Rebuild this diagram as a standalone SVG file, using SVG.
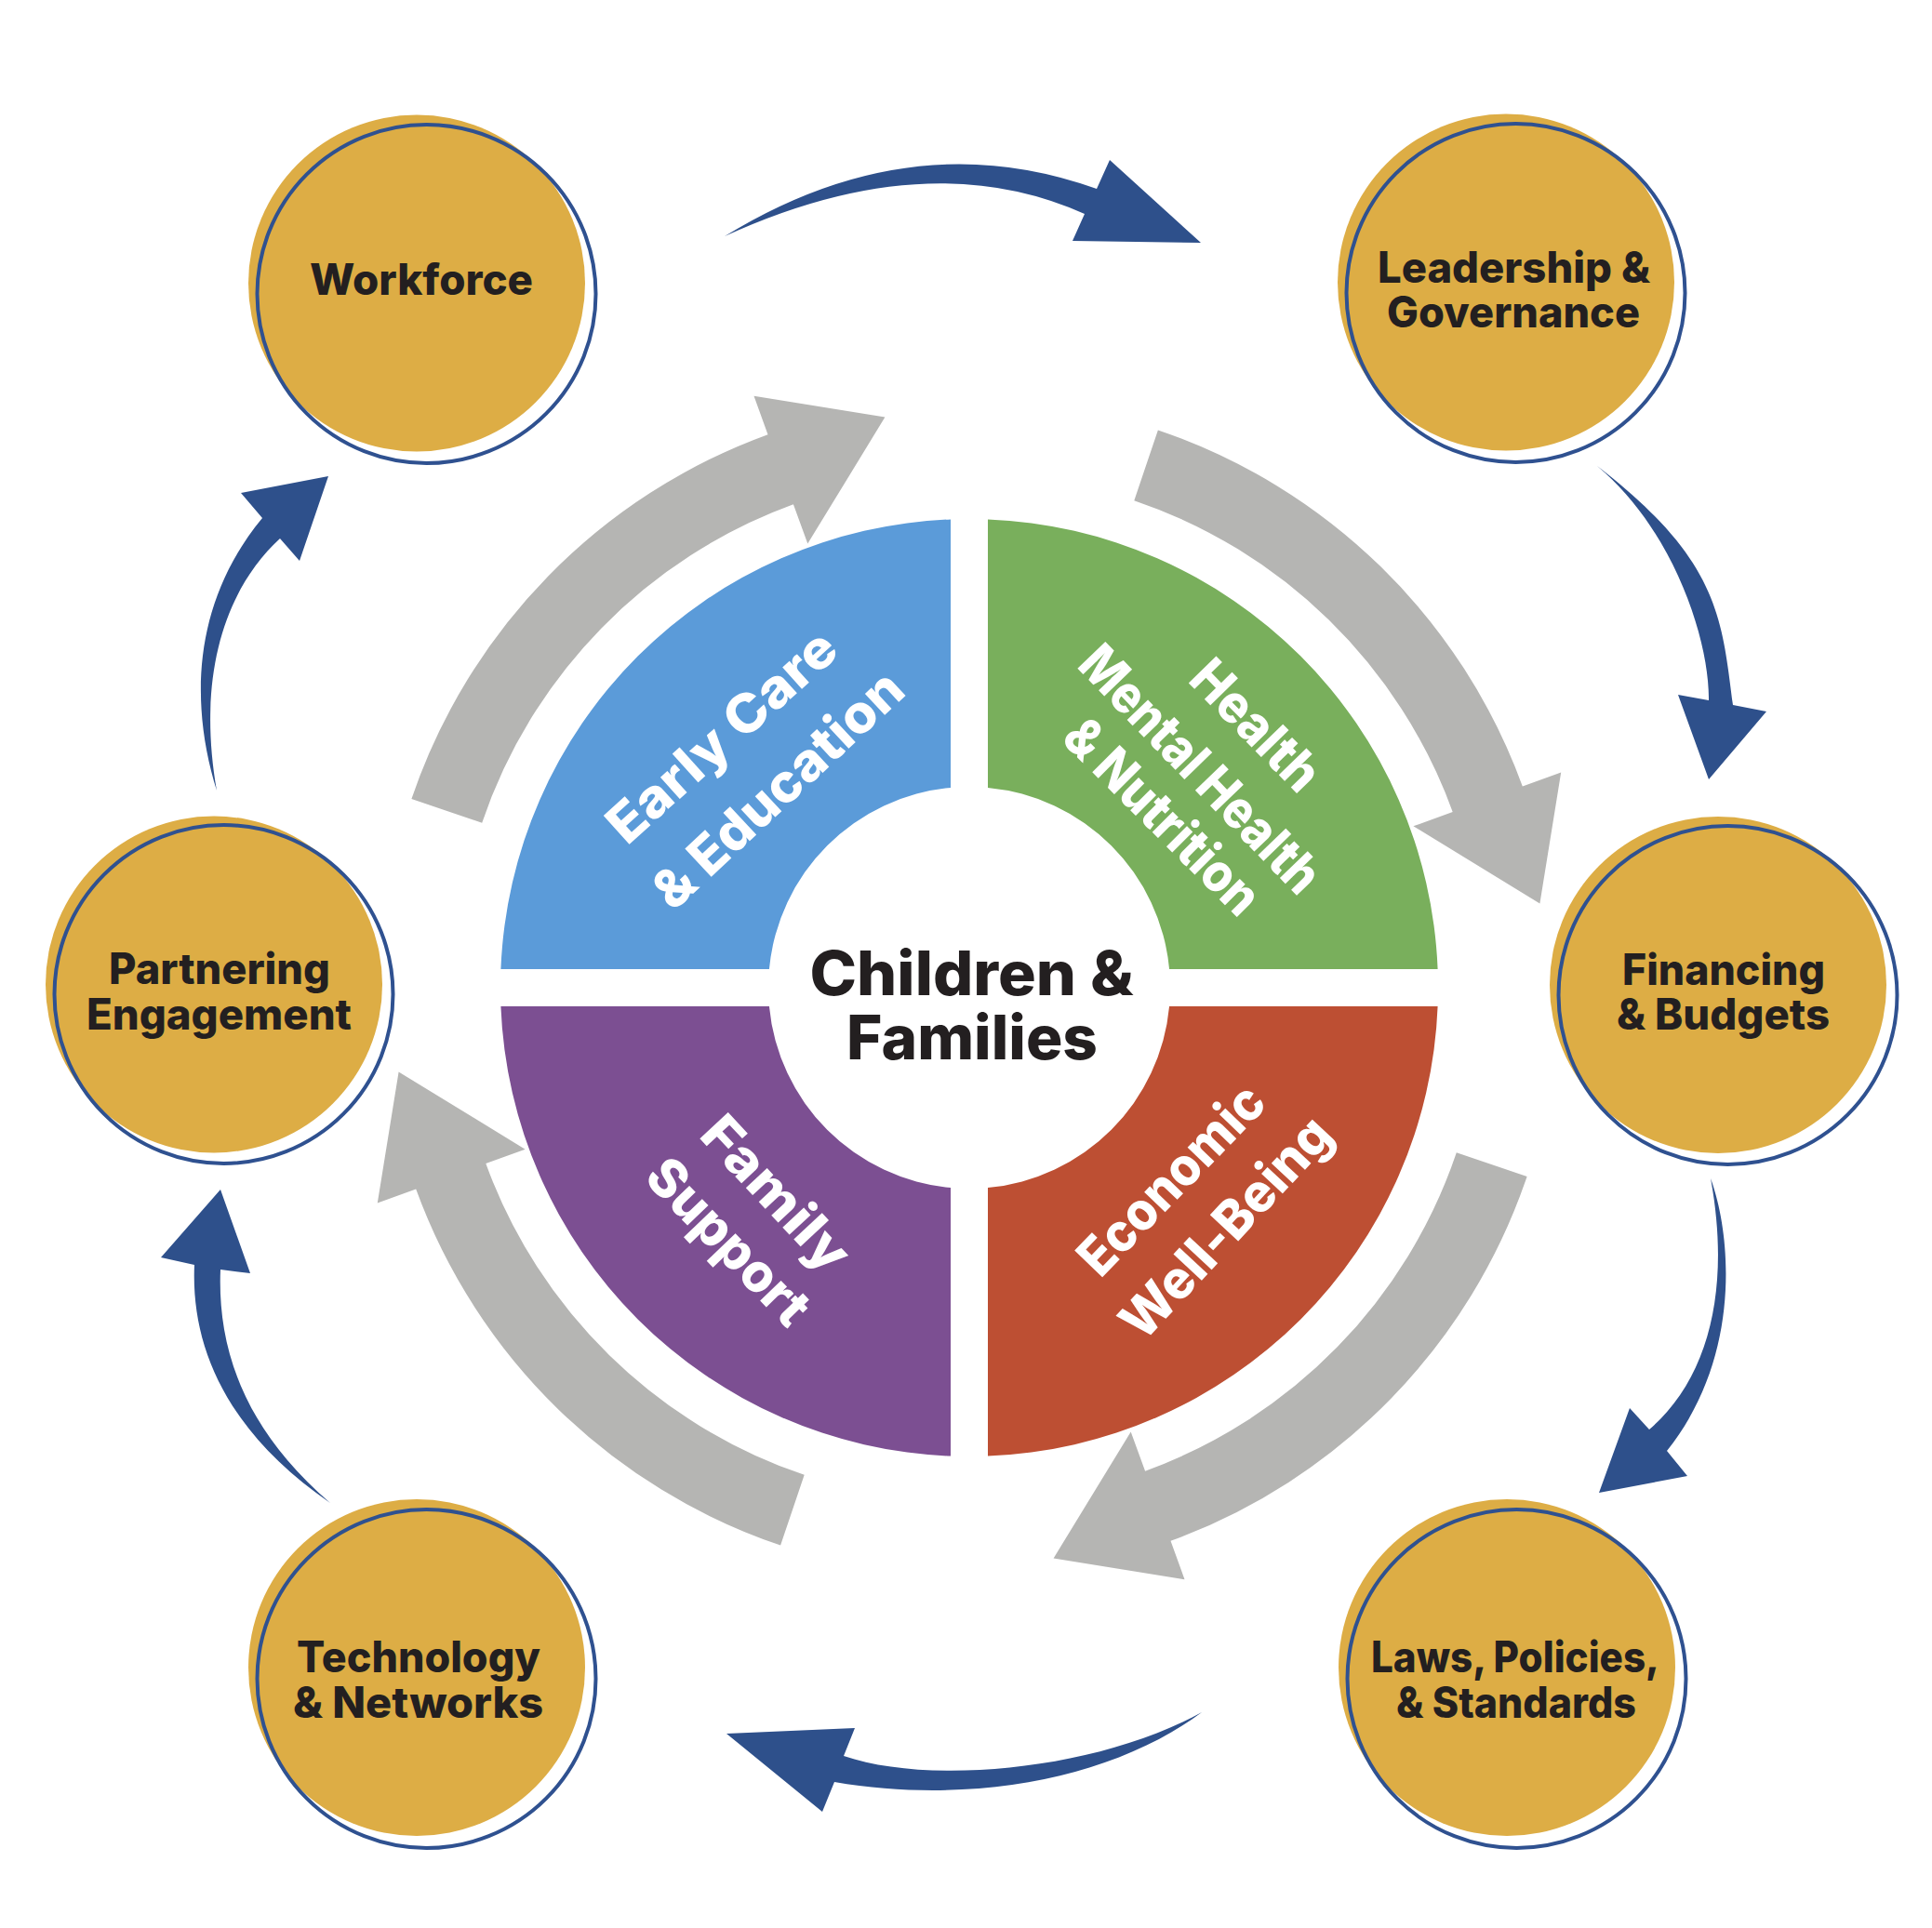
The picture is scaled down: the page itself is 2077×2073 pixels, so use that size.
<svg xmlns="http://www.w3.org/2000/svg" xmlns:xlink="http://www.w3.org/1999/xlink" width="2077" height="2073" viewBox="0 0 2077 2073">
<defs>
<style>
.gold{fill:#DDAD45}
.ring{fill:none;stroke:#2F5190;stroke-width:4}
.lbl{font-family:Inter,"Liberation Sans","DejaVu Sans",sans-serif;font-weight:800;font-size:46px;fill:#231F20;text-anchor:middle}
.ctr{font-family:Inter,"Liberation Sans","DejaVu Sans",sans-serif;font-weight:800;font-size:66px;fill:#231F20;text-anchor:middle}
.q{font-family:Inter,"Liberation Sans","DejaVu Sans",sans-serif;font-weight:800;font-size:57px;fill:#FFFFFF;text-anchor:middle}
.blue{fill:#2E508B}
.grey{fill:#B5B5B3}
</style>
<path id="gray-arrow" d="M 442.4 859.1 A 633 633 0 0 1 825.5 467.2 L 810.5 425.8 L 951.4 448.6 L 868.3 584.6 L 852.9 542.3 A 553 553 0 0 0 518.2 884.7 Z"/>
</defs>
<rect width="2077" height="2073" fill="#FFFFFF"/>

<g id="connectors">
  <g id="gray-arrows" class="grey">
    <use xlink:href="#gray-arrow"/>
    <use xlink:href="#gray-arrow" transform="rotate(90 1042 1062)"/>
    <use xlink:href="#gray-arrow" transform="rotate(180 1042 1062)"/>
    <use xlink:href="#gray-arrow" transform="rotate(270 1042 1062)"/>
  </g>
  <g id="blue-arrows" class="blue">
    <path id="arrow-workforce-leadership" d="M 779 254 Q 979 131 1179 203 L 1193 172 L 1291 261 L 1153 259 L 1166 230 Q 997 154 779 254 Z"/>
    <path id="arrow-leadership-financing" d="M 1717 501 C 1848 602 1851 664 1863 758 L 1899 765 L 1837 838 L 1804 747 L 1837 753 C 1838 690 1800 570 1717 501 Z"/>
    <path id="arrow-financing-laws" d="M 1839 1267 C 1862 1330 1872 1460 1792 1560 L 1814 1587 L 1719 1605 L 1752 1514 L 1773 1537 C 1840 1480 1860 1380 1839 1267 Z"/>
    <path id="arrow-laws-technology" d="M 1292 1841 C 1200 1910 1050 1942 897 1916 L 884 1948 L 781 1864 L 919 1858 L 907 1888 C 1000 1920 1180 1903 1292 1841 Z"/>
    <path id="arrow-technology-partnering" d="M 355 1616 C 245 1540 205 1450 209 1360 L 173 1352 L 237 1279 L 269 1369 L 237 1365 C 234 1440 255 1530 355 1616 Z"/>
    <path id="arrow-partnering-workforce" d="M 233 850 C 205 760 205 650 282 557 L 259 530 L 353 512 L 322 603 L 301 579 C 240 635 212 730 233 850 Z"/>
  </g>
</g>

<g id="quadrant-early-care">
  <path fill="#5B9BD9" d="M 1022 558.4 L 1022 846.93 A 216 216 0 0 0 826.93 1042 L 538.4 1042 A 504 504 0 0 1 1022 558.4 Z"/>
  <text class="q" transform="translate(775.4 791) rotate(-42)" dy="0.36em" textLength="310" lengthAdjust="spacingAndGlyphs">Early Care</text>
  <text class="q" transform="translate(835.7 848.4) rotate(-43)" dy="0.36em" textLength="345" lengthAdjust="spacingAndGlyphs">&amp; Education</text>
</g>
<g id="quadrant-health">
  <path fill="#79AF5C" d="M 1062 558.4 A 504 504 0 0 1 1545.6 1042 L 1257.07 1042 A 216 216 0 0 0 1062 846.93 Z"/>
  <text class="q" transform="translate(1350.7 779.4) rotate(45.6)" dy="0.36em" textLength="172" lengthAdjust="spacingAndGlyphs">Health</text>
  <text class="q" transform="translate(1291 826.5) rotate(46)" dy="0.36em" textLength="345" lengthAdjust="spacingAndGlyphs">Mental Health</text>
  <text class="q" transform="translate(1250.2 877.3) rotate(45)" dy="0.36em" textLength="272" lengthAdjust="spacingAndGlyphs">&amp; Nutrition</text>
</g>
<g id="quadrant-economic">
  <path fill="#BD4F33" d="M 1545.6 1082 A 504 504 0 0 1 1062 1565.6 L 1062 1277.07 A 216 216 0 0 0 1257.07 1082 Z"/>
  <text class="q" transform="translate(1258.6 1267.6) rotate(-46)" dy="0.36em" textLength="260" lengthAdjust="spacingAndGlyphs">Economic</text>
  <text class="q" transform="translate(1317.3 1319.3) rotate(-47)" dy="0.36em" textLength="303" lengthAdjust="spacingAndGlyphs">Well-Being</text>
</g>
<g id="quadrant-family">
  <path fill="#7C4F92" d="M 1022 1565.6 A 504 504 0 0 1 538.4 1082 L 826.93 1082 A 216 216 0 0 0 1022 1277.07 Z"/>
  <text class="q" transform="translate(835 1282.8) rotate(47)" dy="0.36em" textLength="205" lengthAdjust="spacingAndGlyphs">Family</text>
  <text class="q" transform="translate(783.7 1334.3) rotate(46)" dy="0.36em" textLength="225" lengthAdjust="spacingAndGlyphs">Support</text>
</g>

<g id="center">
  <text class="ctr" x="1044.5" y="1070" textLength="348" lengthAdjust="spacingAndGlyphs">Children &amp;</text>
  <text class="ctr" x="1045" y="1139" textLength="270" lengthAdjust="spacingAndGlyphs">Families</text>
</g>

<g id="node-workforce">
  <circle class="gold" cx="448" cy="304.5" r="181"/>
  <circle class="ring" cx="458.5" cy="316" r="182"/>
  <text class="lbl" x="453" y="317" textLength="240" lengthAdjust="spacingAndGlyphs">Workforce</text>
</g>
<g id="node-leadership">
  <circle class="gold" cx="1619" cy="303.5" r="181"/>
  <circle class="ring" cx="1629.5" cy="315" r="182"/>
  <text class="lbl" x="1627.5" y="304" textLength="293" lengthAdjust="spacingAndGlyphs">Leadership &amp;</text>
  <text class="lbl" x="1627" y="352" textLength="272" lengthAdjust="spacingAndGlyphs">Governance</text>
</g>
<g id="node-financing">
  <circle class="gold" cx="1847" cy="1059" r="181"/>
  <circle class="ring" cx="1857.5" cy="1070" r="182"/>
  <text class="lbl" x="1853" y="1059" textLength="218" lengthAdjust="spacingAndGlyphs">Financing</text>
  <text class="lbl" x="1852.5" y="1107" textLength="229" lengthAdjust="spacingAndGlyphs">&amp; Budgets</text>
</g>
<g id="node-laws">
  <circle class="gold" cx="1620" cy="1793" r="181"/>
  <circle class="ring" cx="1630.5" cy="1805" r="182"/>
  <text class="lbl" x="1629" y="1798" textLength="310" lengthAdjust="spacingAndGlyphs">Laws, Policies,</text>
  <text class="lbl" x="1630" y="1847" textLength="258" lengthAdjust="spacingAndGlyphs">&amp; Standards</text>
</g>
<g id="node-technology">
  <circle class="gold" cx="448" cy="1793" r="181"/>
  <circle class="ring" cx="458.5" cy="1805" r="182"/>
  <text class="lbl" x="450" y="1798" textLength="262" lengthAdjust="spacingAndGlyphs">Technology</text>
  <text class="lbl" x="449.5" y="1847" textLength="269" lengthAdjust="spacingAndGlyphs">&amp; Networks</text>
</g>
<g id="node-partnering">
  <circle class="gold" cx="230" cy="1058.5" r="181"/>
  <circle class="ring" cx="240.5" cy="1069" r="182"/>
  <text class="lbl" x="236" y="1058" textLength="238" lengthAdjust="spacingAndGlyphs">Partnering</text>
  <text class="lbl" x="235.5" y="1107" textLength="285" lengthAdjust="spacingAndGlyphs">Engagement</text>
</g>
</svg>
